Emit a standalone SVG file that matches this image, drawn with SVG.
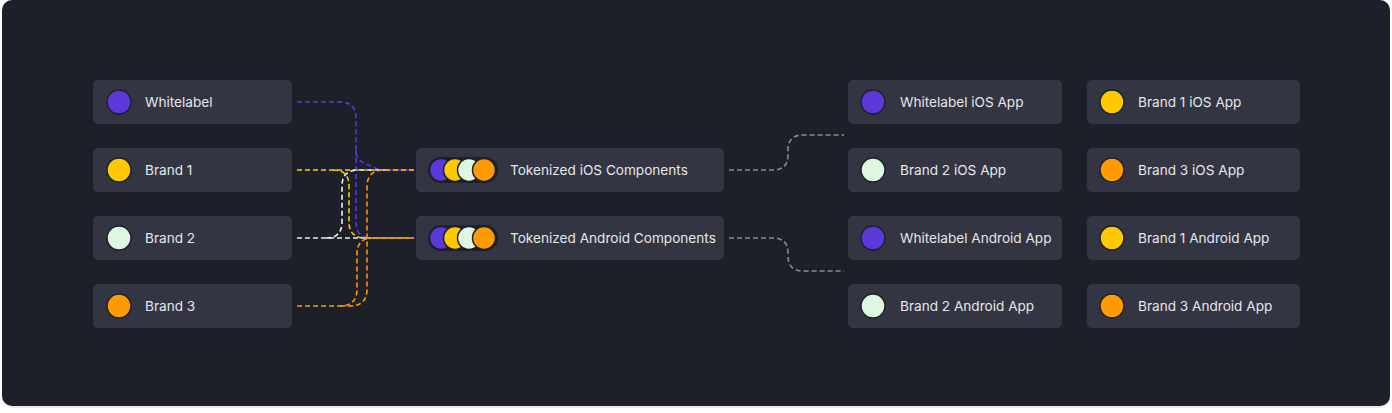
<svg xmlns="http://www.w3.org/2000/svg" width="1392" height="413" viewBox="0 0 1392 413">
<style>
.node{fill:#333542}
.lbl{font-family:Inter,"Noto Sans",sans-serif;font-size:13.6px;fill:#e6e7ea}
.dot{stroke:#1e2029;stroke-width:1.5}
.c{fill:none;stroke-width:1.6;stroke-dasharray:5 3}
.p{fill:#5a38d9}.y{fill:#ffc900}.w{fill:#ddf7e1}.o{fill:#ff9b00}
</style>
<rect x="0" y="0" width="1392" height="413" fill="#ffffff"/>
<rect x="3" y="1" width="1387" height="407" rx="10" fill="#e9e9ec"/>
<rect x="2" y="0" width="1388" height="406" rx="10" fill="#1e2029"/>
<g id="connectors">
<path class="c" stroke="#5a38d9" d="M297,102 H340 Q356,102 356,118 V152 Q356,160 366,164 L380,170 H414"/>
<path class="c" stroke="#5a38d9" d="M356,150 V222 Q356,238 372,238 H414"/>
<path class="c" stroke="#ffc900" d="M297,170 H414"/>
<path class="c" stroke="#ffc900" d="M333,170 Q349,170 349,186 V222 Q349,238 365,238 H414"/>
<path class="c" stroke="#e6efe8" d="M297,238 H370"/>
<path class="c" stroke="#e6efe8" d="M326,238 Q342,238 342,222 V186 Q342,170 358,170 H385"/>
<path class="c" stroke="#ff9b00" d="M297,306 H340 Q357,306 357,289 V254 Q357,238 373,238 H414"/>
<path class="c" stroke="#ff9b00" d="M340,306 H350 Q367,306 367,289 V187 Q367,170 384,170 H414"/>
<path class="c" stroke="#8a8c95" d="M729,170 H773 Q788,170 788,155 V150 Q788,135 803,135 H844"/>
<path class="c" stroke="#8a8c95" d="M729,238 H773 Q788,238 788,253 V256 Q788,271 803,271 H844"/>
</g>
<g id="whitelabel"><rect class="node" x="93" y="80" width="199" height="44" rx="5"/><circle class="dot p" cx="119" cy="102" r="12"/><text class="lbl" x="145" y="107">Whitelabel</text></g>
<g id="brand1"><rect class="node" x="93" y="148" width="199" height="44" rx="5"/><circle class="dot y" cx="119" cy="170" r="12"/><text class="lbl" x="145" y="175">Brand 1</text></g>
<g id="brand2"><rect class="node" x="93" y="216" width="199" height="44" rx="5"/><circle class="dot w" cx="119" cy="238" r="12"/><text class="lbl" x="145" y="243">Brand 2</text></g>
<g id="brand3"><rect class="node" x="93" y="284" width="199" height="44" rx="5"/><circle class="dot o" cx="119" cy="306" r="12"/><text class="lbl" x="145" y="311">Brand 3</text></g>
<g id="ios-components"><rect class="node" x="416" y="148" width="308" height="44" rx="5"/>
<rect x="428" y="157" width="70" height="26" rx="13" fill="#1e2029"/>
<circle class="dot p" cx="441" cy="170" r="11.5"/><circle class="dot y" cx="455" cy="170" r="11.5"/><circle class="dot w" cx="469" cy="170" r="11.5"/><circle class="dot o" cx="484" cy="170" r="11.5"/>
<text class="lbl" x="510" y="175">Tokenized iOS Components</text></g>
<g id="android-components"><rect class="node" x="416" y="216" width="308" height="44" rx="5"/>
<rect x="428" y="225" width="70" height="26" rx="13" fill="#1e2029"/>
<circle class="dot p" cx="441" cy="238" r="11.5"/><circle class="dot y" cx="455" cy="238" r="11.5"/><circle class="dot w" cx="469" cy="238" r="11.5"/><circle class="dot o" cx="484" cy="238" r="11.5"/>
<text class="lbl" x="510" y="243">Tokenized Android Components</text></g>
<g id="wl-ios"><rect class="node" x="848" y="80" width="214" height="44" rx="5"/><circle class="dot p" cx="873" cy="102" r="12"/><text class="lbl" x="900" y="107">Whitelabel iOS App</text></g>
<g id="b2-ios"><rect class="node" x="848" y="148" width="214" height="44" rx="5"/><circle class="dot w" cx="873" cy="170" r="12"/><text class="lbl" x="900" y="175">Brand 2 iOS App</text></g>
<g id="wl-android"><rect class="node" x="848" y="216" width="214" height="44" rx="5"/><circle class="dot p" cx="873" cy="238" r="12"/><text class="lbl" x="900" y="243">Whitelabel Android App</text></g>
<g id="b2-android"><rect class="node" x="848" y="284" width="214" height="44" rx="5"/><circle class="dot w" cx="873" cy="306" r="12"/><text class="lbl" x="900" y="311">Brand 2 Android App</text></g>
<g id="b1-ios"><rect class="node" x="1087" y="80" width="213" height="44" rx="5"/><circle class="dot y" cx="1112" cy="102" r="12"/><text class="lbl" x="1138" y="107">Brand 1 iOS App</text></g>
<g id="b3-ios"><rect class="node" x="1087" y="148" width="213" height="44" rx="5"/><circle class="dot o" cx="1112" cy="170" r="12"/><text class="lbl" x="1138" y="175">Brand 3 iOS App</text></g>
<g id="b1-android"><rect class="node" x="1087" y="216" width="213" height="44" rx="5"/><circle class="dot y" cx="1112" cy="238" r="12"/><text class="lbl" x="1138" y="243">Brand 1 Android App</text></g>
<g id="b3-android"><rect class="node" x="1087" y="284" width="213" height="44" rx="5"/><circle class="dot o" cx="1112" cy="306" r="12"/><text class="lbl" x="1138" y="311">Brand 3 Android App</text></g>
</svg>
